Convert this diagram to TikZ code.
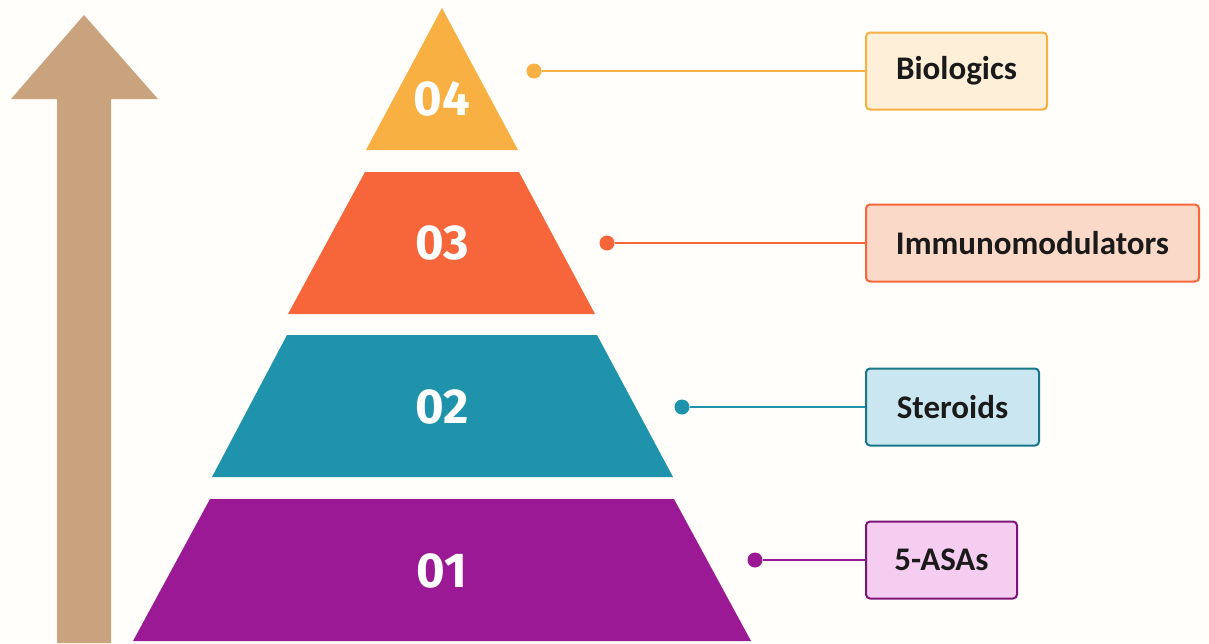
\documentclass[tikz,border=0pt]{standalone}
\usepackage{fontspec}
\setmainfont{Carlito}
\newfontfamily\numfont{Fira Sans}
\usetikzlibrary{positioning}
\definecolor{paper}{HTML}{FFFEFB}
\definecolor{rise}{HTML}{C9A27E}
\definecolor{tierA}{HTML}{9C1996}
\definecolor{tierB}{HTML}{1E93AB}
\definecolor{tierC}{HTML}{F7663A}
\definecolor{tierD}{HTML}{F8B042}
\definecolor{fillA}{HTML}{F4CDF1}
\definecolor{fillB}{HTML}{CAE6F0}
\definecolor{fillC}{HTML}{FBD9C8}
\definecolor{fillD}{HTML}{FDEFD8}
\definecolor{ink}{HTML}{1A1A1A}

\begin{document}
\begin{tikzpicture}[x=1pt, y=-1pt,
        num/.style={text=white, font=\numfont\bfseries\fontsize{49}{49}\selectfont},
        tag/.style={rectangle, rounded corners=4pt, line width=2pt, anchor=west,
                    minimum height=77pt, align=center, text=ink,
                    font=\bfseries\fontsize{33}{33}\selectfont},
        dot/.style={circle, inner sep=0pt, minimum size=15pt},
        link/.style={line width=1.8pt}
      ]
        \useasboundingbox (0,0) rectangle (1209,643);
        \fill[paper] (0,0) rectangle (1209,643);

        % rising arrow on the left
        \fill[rise] (57,643) -- (57,99) -- (11,99) -- (84,15) -- (158,99)
                    -- (111,99) -- (111,643) -- cycle;

        % pyramid tiers, bottom to top
        \fill[tierA] (210,499) -- (674,499) -- (751,641) -- (133,641) -- cycle;
        \fill[tierB] (287,335) -- (597,335) -- (673,477) -- (212,477) -- cycle;
        \fill[tierC] (365,172) -- (519,172) -- (595,314) -- (288,314) -- cycle;
        \fill[tierD] (442,8) -- (518,150) -- (366,150) -- cycle;

        \node[num] (n1) at (442,571) {01};
        \node[num] (n2) at (442,407) {02};
        \node[num] (n3) at (442,243) {03};
        \node[num] (n4) at (442,99) {04};

        % labels
        \node[tag, draw=tierA!80!black, fill=fillA, minimum width=151pt] (b1) at (865,560) {5-ASAs};
        \node[tag, draw=tierB!80!black, fill=fillB, minimum width=173pt] (b2) at (865,407) {Steroids};
        \node[tag, draw=tierC, fill=fillC, minimum width=333pt] (b3) at (865,243) {Immunomodulators};
        \node[tag, draw=tierD, fill=fillD, minimum width=181pt] (b4) at (865,71) {Biologics};

        \node[dot, fill=tierA] (d1) at (755,560) {};
        \node[dot, fill=tierB] (d2) at (682,407) {};
        \node[dot, fill=tierC] (d3) at (607,243) {};
        \node[dot, fill=tierD] (d4) at (534,71) {};

        \draw[link, tierA] (d1) -- (b1);
        \draw[link, tierB] (d2) -- (b2);
        \draw[link, tierC] (d3) -- (b3);
        \draw[link, tierD] (d4) -- (b4);
      \end{tikzpicture}
\end{document}
